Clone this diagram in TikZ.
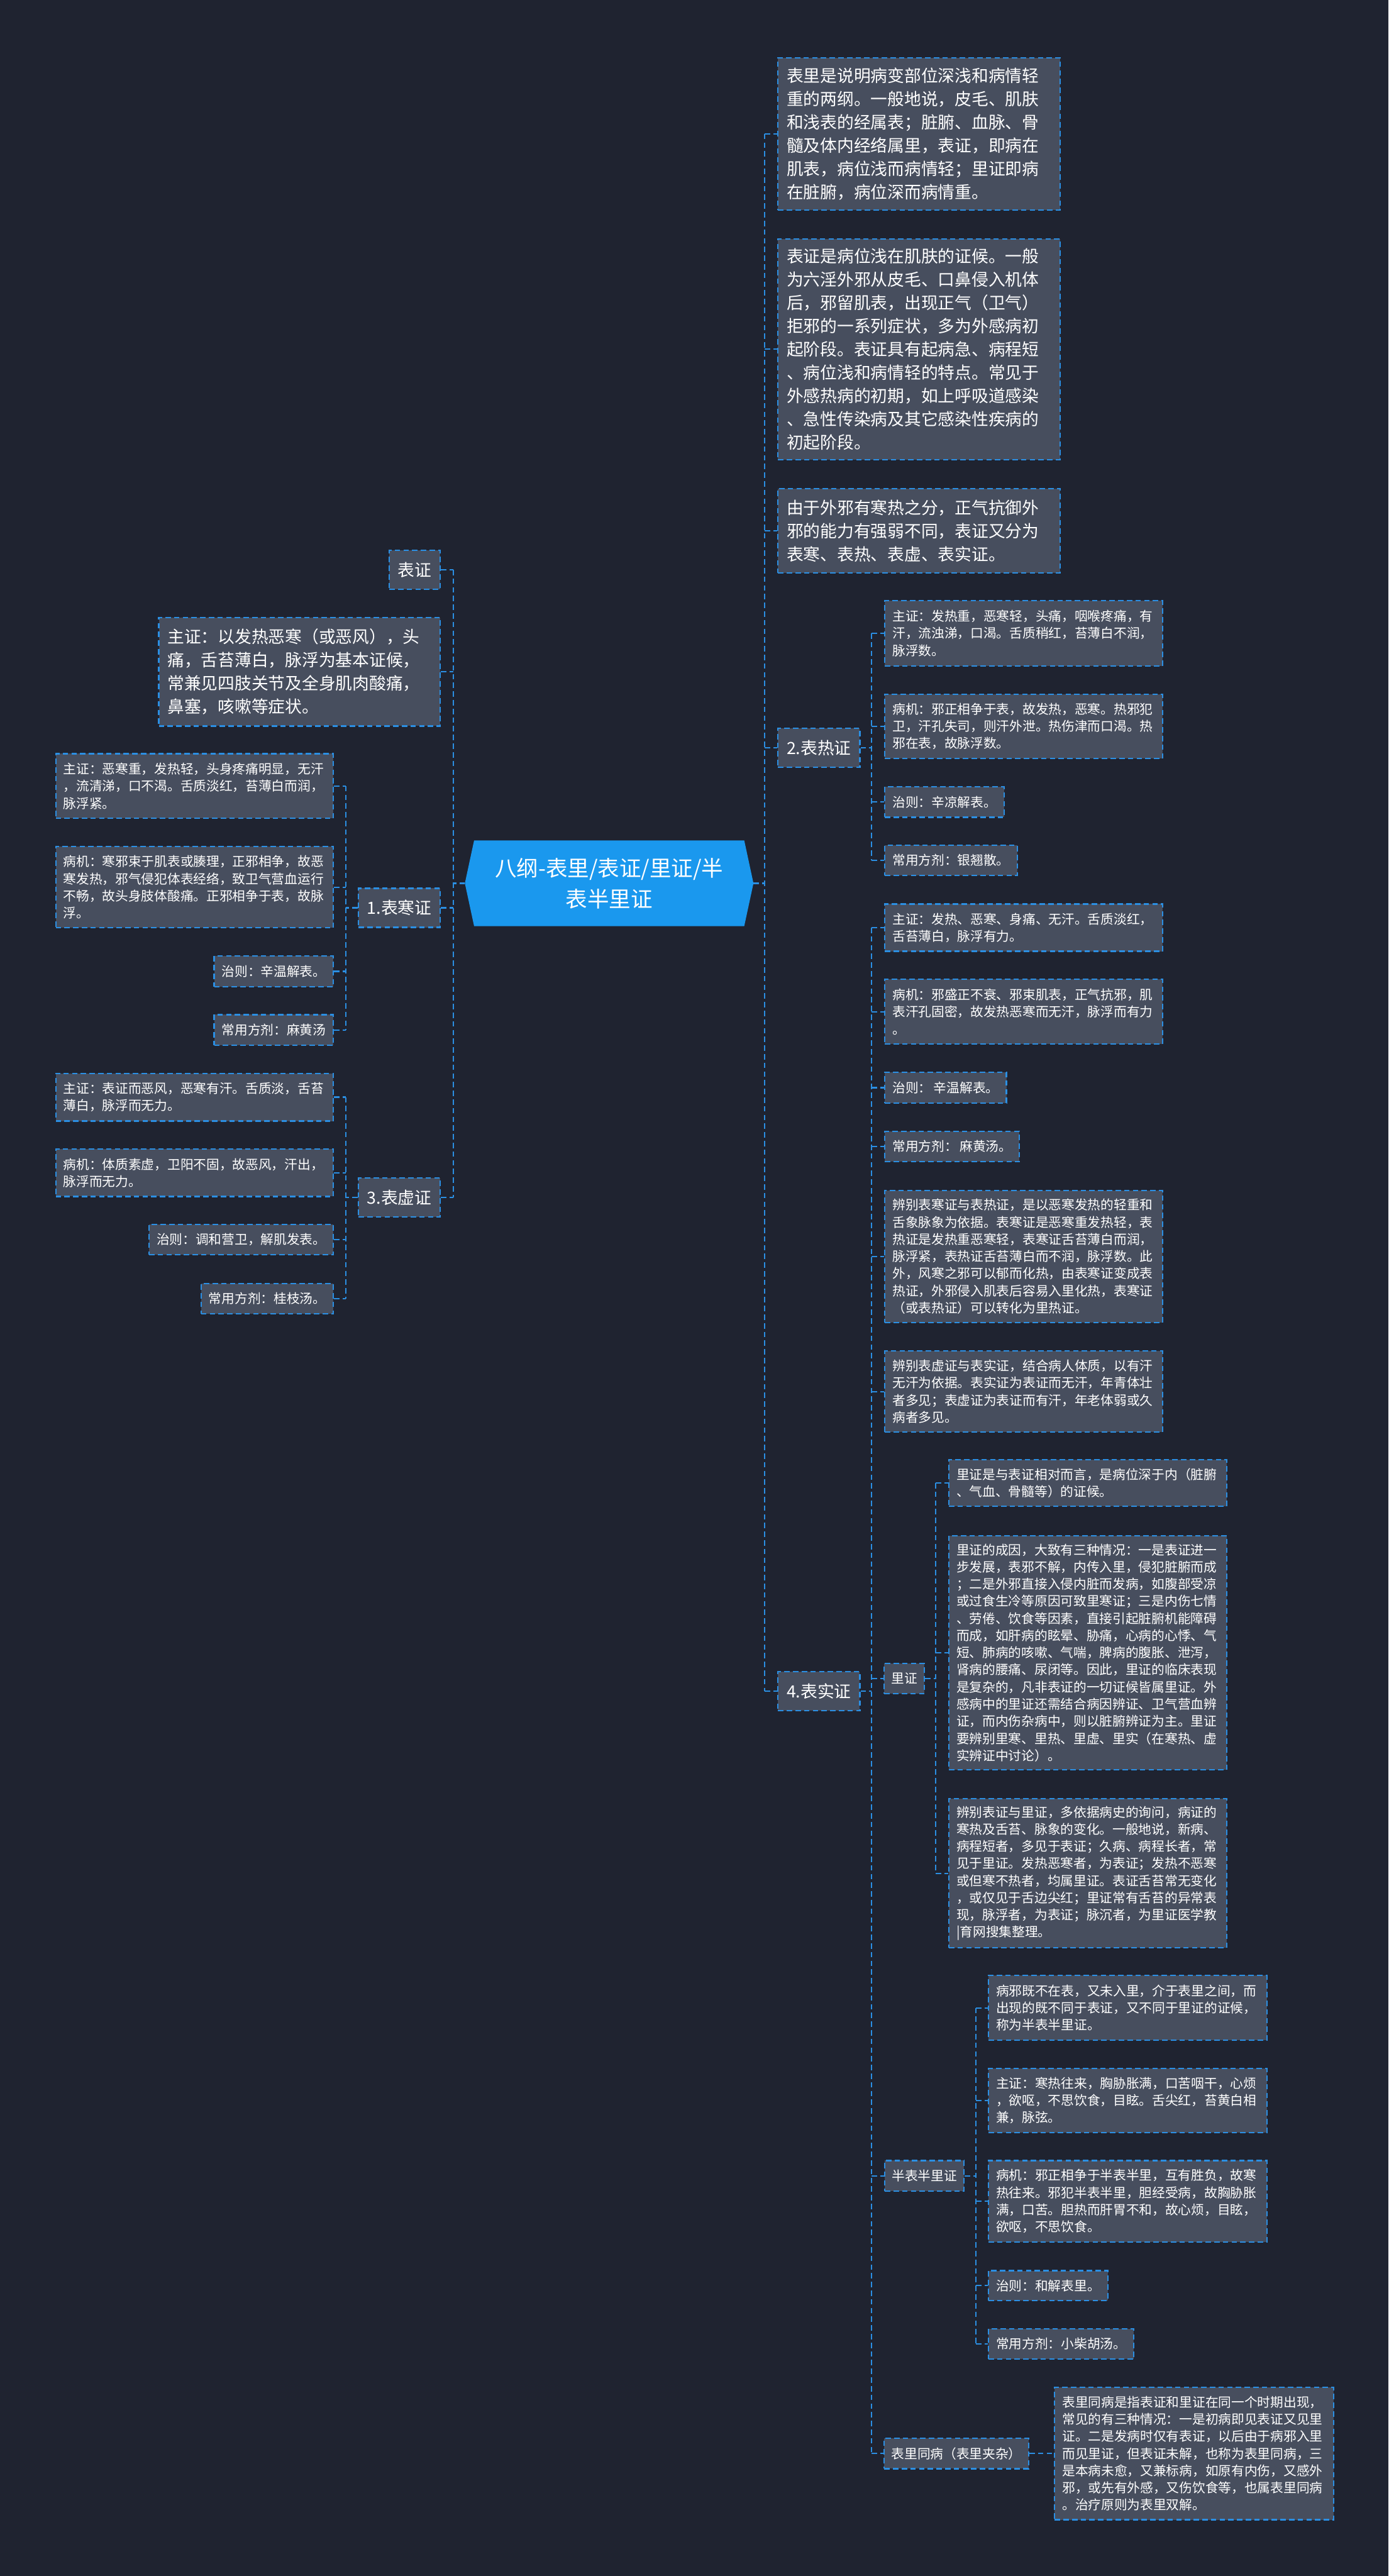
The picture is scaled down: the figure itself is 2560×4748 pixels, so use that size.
\documentclass[tikz,border=0pt]{standalone}
\usepackage{fontspec}
\setmainfont{Noto Sans CJK SC}
\definecolor{bgc}{HTML}{1F2330}
\definecolor{boxfill}{HTML}{474E5E}
\definecolor{lineblue}{HTML}{2B8FE3}
\definecolor{centerblue}{HTML}{1A98EE}
\tikzset{
  conn/.style={draw=lineblue, line width=2.5pt, dash pattern=on 10pt off 6pt},
  box/.style={draw=lineblue, line width=2.5pt, dash pattern=on 10pt off 6pt, fill=boxfill, text=white, inner ysep=0pt, align=left},
  bigbox/.style={box, font=\fontsize{31}{43}\selectfont, inner xsep=16pt},
  smallbox/.style={box, font=\fontsize{24}{31.6}\selectfont, inner xsep=14pt},
  headbox/.style={bigbox, minimum height=72pt},
  subhead/.style={smallbox, minimum height=56pt, inner xsep=13pt},
}
\begin{document}
\begin{tikzpicture}[x=1pt,y=-1pt]
\fill[bgc] (0,0) rectangle (2560,4748);
\useasboundingbox (0,0) rectangle (2560,4748);

% trunk x positions
\coordinate (lt) at (836,0);
\coordinate (rt) at (1410,0);
\coordinate (tA) at (638,0);
\coordinate (tB) at (1607,0);
\coordinate (tL) at (1725,0);
\coordinate (tH) at (1799,0);

% center
\coordinate (cL) at (857,1628);
\coordinate (cR) at (1389,1628);
\fill[centerblue] (874,1549) -- (1372,1549) -- (cR) -- (1372,1707) -- (874,1707) -- (cL) -- cycle;
\node[text=white, align=center, font=\fontsize{40}{57}\selectfont] (center) at (1123,1628) {八纲-表里/表证/里证/半\\表半里证};

% ---------- right top boxes
\node[bigbox, anchor=north west, text width=488pt, minimum height=281pt] (rA) at (1433,105) {表里是说明病变部位深浅和病情轻\\
重的两纲。一般地说，皮毛、肌肤\\
和浅表的经属表；脏腑、血脉、骨\\
髓及体内经络属里，表证，即病在\\
肌表，病位浅而病情轻；里证即病\\
在脏腑，病位深而病情重。};
\node[bigbox, anchor=north west, text width=488pt, minimum height=407pt] (rB) at (1433,439) {表证是病位浅在肌肤的证候。一般\\
为六淫外邪从皮毛、口鼻侵入机体\\
后，邪留肌表，出现正气（卫气）\\
拒邪的一系列症状，多为外感病初\\
起阶段。表证具有起病急、病程短\\
、病位浅和病情轻的特点。常见于\\
外感热病的初期，如上呼吸道感染\\
、急性传染病及其它感染性疾病的\\
初起阶段。};
\node[bigbox, anchor=north west, text width=488pt, minimum height=156pt] (rC) at (1433,899) {由于外邪有寒热之分，正气抗御外\\
邪的能力有强弱不同，表证又分为\\
表寒、表热、表虚、表实证。};

% ---------- left side
\node[headbox, anchor=north east] (bz) at (813,1013) {表证};
\node[bigbox, anchor=north east, text width=487pt, minimum height=200pt] (zz) at (813,1137) {主证：以发热恶寒（或恶风），头\\
痛，舌苔薄白，脉浮为基本证候，\\
常兼见四肢关节及全身肌肉酸痛，\\
鼻塞，咳嗽等症状。};
\node[headbox, anchor=north east] (hz) at (813,1636) {1.表寒证};
\node[headbox, anchor=north east] (xz) at (813,2170) {3.表虚证};

% 1.表寒证 children
\node[smallbox, anchor=north east, text width=484pt, minimum height=119pt] (hz1) at (616,1388) {主证：恶寒重，发热轻，头身疼痛明显，无汗\\
，流清涕，口不渴。舌质淡红，苔薄白而润，\\
脉浮紧。};
\node[smallbox, anchor=north east, text width=484pt, minimum height=150pt] (hz2) at (616,1559) {病机：寒邪束于肌表或腠理，正邪相争，故恶\\
寒发热，邪气侵犯体表经络，致卫气营血运行\\
不畅，故头身肢体酸痛。正邪相争于表，故脉\\
浮。};
\node[smallbox, anchor=north east, minimum height=56pt] (hz3) at (616,1761) {治则：辛温解表。};
\node[smallbox, anchor=north east, minimum height=56pt] (hz4) at (616,1869) {常用方剂：麻黄汤};

% 3.表虚证 children
\node[smallbox, anchor=north east, text width=484pt, minimum height=88pt] (xz1) at (616,1977) {主证：表证而恶风，恶寒有汗。舌质淡，舌苔\\
薄白，脉浮而无力。};
\node[smallbox, anchor=north east, text width=484pt, minimum height=87pt] (xz2) at (616,2117) {病机：体质素虚，卫阳不固，故恶风，汗出，\\
脉浮而无力。};
\node[smallbox, anchor=north east, minimum height=55pt] (xz3) at (616,2256) {治则：调和营卫，解肌发表。};
\node[smallbox, anchor=north east, minimum height=55pt] (xz4) at (616,2365) {常用方剂：桂枝汤。};

% ---------- 2.表热证
\node[headbox, anchor=north west] (rz) at (1433,1341) {2.表热证};
\node[smallbox, anchor=north west, text width=484pt, minimum height=120pt] (rz1) at (1630,1106) {主证：发热重，恶寒轻，头痛，咽喉疼痛，有\\
汗，流浊涕，口渴。舌质稍红，苔薄白不润，\\
脉浮数。};
\node[smallbox, anchor=north west, text width=484pt, minimum height=119pt] (rz2) at (1630,1278) {病机：邪正相争于表，故发热，恶寒。热邪犯\\
卫，汗孔失司，则汗外泄。热伤津而口渴。热\\
邪在表，故脉浮数。};
\node[smallbox, anchor=north west, minimum height=56pt] (rz3) at (1630,1449) {治则：辛凉解表。};
\node[smallbox, anchor=north west, minimum height=55pt] (rz4) at (1630,1557) {常用方剂：银翘散。};

% ---------- 4.表实证
\node[headbox, anchor=north west] (sz) at (1433,3080) {4.表实证};
\node[smallbox, anchor=north west, text width=484pt, minimum height=87pt] (sz1) at (1630,1665) {主证：发热、恶寒、身痛、无汗。舌质淡红，\\
舌苔薄白，脉浮有力。};
\node[smallbox, anchor=north west, text width=484pt, minimum height=119pt] (sz2) at (1630,1804) {病机：邪盛正不衰、邪束肌表，正气抗邪，肌\\
表汗孔固密，故发热恶寒而无汗，脉浮而有力\\
。};
\node[smallbox, anchor=north west, minimum height=57pt] (sz3) at (1630,1975) {治则：\,辛温解表。};
\node[smallbox, anchor=north west, minimum height=56pt] (sz4) at (1630,2084) {常用方剂：\,麻黄汤。};
\node[smallbox, anchor=north west, text width=484pt, minimum height=243pt] (sz5) at (1630,2193) {辨别表寒证与表热证，是以恶寒发热的轻重和\\
舌象脉象为依据。表寒证是恶寒重发热轻，表\\
热证是发热重恶寒轻，表寒证舌苔薄白而润，\\
脉浮紧，表热证舌苔薄白而不润，脉浮数。此\\
外，风寒之邪可以郁而化热，由表寒证变成表\\
热证，外邪侵入肌表后容易入里化热，表寒证\\
（或表热证）可以转化为里热证。};
\node[smallbox, anchor=north west, text width=484pt, minimum height=149pt] (sz6) at (1630,2489) {辨别表虚证与表实证，结合病人体质，以有汗\\
无汗为依据。表实证为表证而无汗，年青体壮\\
者多见；表虚证为表证而有汗，年老体弱或久\\
病者多见。};
\node[subhead, anchor=north west, minimum height=55pt] (lz) at (1629,3065) {里证};
\node[subhead, anchor=north west] (bb) at (1630,3981) {半表半里证};
\node[subhead, anchor=north west] (tb) at (1629,4493) {表里同病（表里夹杂）};

% 里证 children
\node[smallbox, anchor=north west, text width=484pt, minimum height=86pt] (lz1) at (1748,2689) {里证是与表证相对而言，是病位深于内（脏腑\\
、气血、骨髓等）的证候。};
\node[smallbox, anchor=north west, text width=484pt, minimum height=432pt] (lz2) at (1748,2829) {里证的成因，大致有三种情况：一是表证进一\\
步发展，表邪不解，内传入里，侵犯脏腑而成\\
；二是外邪直接入侵内脏而发病，如腹部受凉\\
或过食生冷等原因可致里寒证；三是内伤七情\\
、劳倦、饮食等因素，直接引起脏腑机能障碍\\
而成，如肝病的眩晕、胁痛，心病的心悸、气\\
短、肺病的咳嗽、气喘，脾病的腹胀、泄泻，\\
肾病的腰痛、尿闭等。因此，里证的临床表现\\
是复杂的，凡非表证的一切证候皆属里证。外\\
感病中的里证还需结合病因辨证、卫气营血辨\\
证，而内伤杂病中，则以脏腑辨证为主。里证\\
要辨别里寒、里热、里虚、里实（在寒热、虚\\
实辨证中讨论）。};
\node[smallbox, anchor=north west, text width=484pt, minimum height=275pt] (lz3) at (1748,3314) {辨别表证与里证，多依据病史的询问，病证的\\
寒热及舌苔、脉象的变化。一般地说，新病、\\
病程短者，多见于表证；久病、病程长者，常\\
见于里证。发热恶寒者，为表证；发热不恶寒\\
或但寒不热者，均属里证。表证舌苔常无变化\\
，或仅见于舌边尖红；里证常有舌苔的异常表\\
现，脉浮者，为表证；脉沉者，为里证医学教\\
|育网搜集整理。};

% 半表半里证 children
\node[smallbox, anchor=north west, text width=485pt, minimum height=119pt] (bb1) at (1821,3640) {病邪既不在表，又未入里，介于表里之间，而\\
出现的既不同于表证，又不同于里证的证候，\\
称为半表半里证。};
\node[smallbox, anchor=north west, text width=485pt, minimum height=118pt] (bb2) at (1821,3811) {主证：寒热往来，胸胁胀满，口苦咽干，心烦\\
，欲呕，不思饮食，目眩。舌尖红，苔黄白相\\
兼，脉弦。};
\node[smallbox, anchor=north west, text width=485pt, minimum height=150pt] (bb3) at (1821,3981) {病机：邪正相争于半表半里，互有胜负，故寒\\
热往来。邪犯半表半里，胆经受病，故胸胁胀\\
满，口苦。胆热而肝胃不和，故心烦，目眩，\\
欲呕，不思饮食。};
\node[smallbox, anchor=north west, minimum height=55pt] (bb4) at (1821,4184) {治则：和解表里。};
\node[smallbox, anchor=north west, minimum height=56pt] (bb5) at (1821,4291) {常用方剂：小柴胡汤。};

% 表里同病 child
\node[smallbox, anchor=north west, text width=486pt, minimum height=244pt] (tb1) at (1943,4399) {表里同病是指表证和里证在同一个时期出现，\\
常见的有三种情况：一是初病即见表证又见里\\
证。二是发病时仅有表证，以后由于病邪入里\\
而见里证，但表证未解，也称为表里同病，三\\
是本病未愈，又兼标病，如原有内伤，又感外\\
邪，或先有外感，又伤饮食等，也属表里同病\\
。治疗原则为表里双解。};

% ---------- connectors
% left main
\draw[conn] (cL) -- (cL -| lt);
\draw[conn] (bz.east -| lt) -- (xz.east -| lt);
\foreach \n in {bz,zz,hz,xz} \draw[conn] (\n.east) -- (\n.east -| lt);
% right main
\draw[conn] (cR) -- (cR -| rt);
\draw[conn] (rA.west -| rt) -- (sz.west -| rt);
\foreach \n in {rA,rB,rC,rz,sz} \draw[conn] (\n.west -| rt) -- (\n.west);
% 1.表寒证
\draw[conn] (hz.west) -- (hz.west -| tA);
\draw[conn] (hz1.east -| tA) -- (hz4.east -| tA);
\foreach \n in {hz1,hz2,hz3,hz4} \draw[conn] (\n.east) -- (\n.east -| tA);
% 3.表虚证
\draw[conn] (xz.west) -- (xz.west -| tA);
\draw[conn] (xz1.east -| tA) -- (xz4.east -| tA);
\foreach \n in {xz1,xz2,xz3,xz4} \draw[conn] (\n.east) -- (\n.east -| tA);
% 2.表热证
\draw[conn] (rz.east) -- (rz.east -| tB);
\draw[conn] (rz1.west -| tB) -- (rz4.west -| tB);
\foreach \n in {rz1,rz2,rz3,rz4} \draw[conn] (\n.west -| tB) -- (\n.west);
% 4.表实证
\draw[conn] (sz.east) -- (sz.east -| tB);
\draw[conn] (sz1.west -| tB) -- (tb.west -| tB);
\foreach \n in {sz1,sz2,sz3,sz4,sz5,sz6,lz,bb,tb} \draw[conn] (\n.west -| tB) -- (\n.west);
% 里证
\draw[conn] (lz.east) -- (lz.east -| tL);
\draw[conn] (lz1.west -| tL) -- (lz3.west -| tL);
\foreach \n in {lz1,lz2,lz3} \draw[conn] (\n.west -| tL) -- (\n.west);
% 半表半里证
\draw[conn] (bb.east) -- (bb.east -| tH);
\draw[conn] (bb1.west -| tH) -- (bb5.west -| tH);
\foreach \n in {bb1,bb2,bb3,bb4,bb5} \draw[conn] (\n.west -| tH) -- (\n.west);
% 表里同病
\draw[conn] (tb.east) -- (tb1.west |- tb.east);
\end{tikzpicture}
\end{document}
